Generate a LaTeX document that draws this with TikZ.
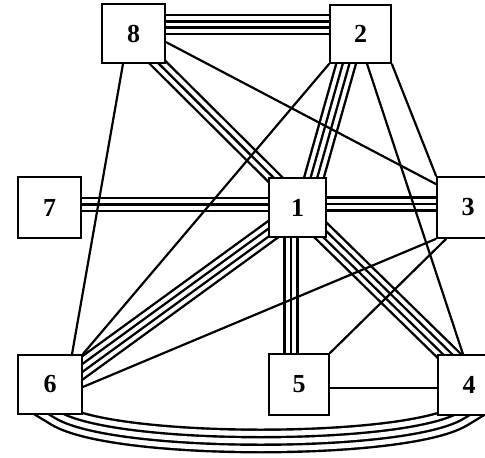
\documentclass[tikz,border=0pt]{standalone}
\usepackage{fontspec}
\setmainfont{Liberation Serif}
\usetikzlibrary{calc}
\pgfdeclarelayer{bg}
\pgfsetlayers{bg,main}
\tikzset{
  box/.style={draw, line width=1.6pt, fill=white, inner sep=0pt,
    font=\fontsize{26}{26}\selectfont\bfseries},
  single/.style={draw, line width=2.2pt},
  quadband/.style={draw, line width=21.3pt,
    postaction={draw, white, line width=16.5pt},
    postaction={draw, black, line width=8.7pt},
    postaction={draw, white, line width=3.9pt}},
  triband/.style={draw, line width=15.4pt,
    postaction={draw, white, line width=10.6pt},
    postaction={draw, black, line width=2.4pt}},
  arcband/.style={draw, line width=24.9pt,
    postaction={draw, white, line width=20.1pt},
    postaction={draw, black, line width=9.9pt},
    postaction={draw, white, line width=5.1pt}}
}
\begin{document}
\begin{tikzpicture}[x=1pt, y=-1pt]
\useasboundingbox (0,0) rectangle (485,458);
% nodes
\node[box, minimum width=63pt, minimum height=59pt] (n8) at (133.5,33.5) {8};
\node[box, minimum width=61pt, minimum height=58pt] (n2) at (360.5,34) {2};
\node[box, minimum width=63pt, minimum height=61pt] (n7) at (49.5,207.5) {7};
\node[box, minimum width=57pt, minimum height=59pt] (n1) at (297.5,207.5) {1};
\node[box, minimum width=62pt, minimum height=61pt] (n3) at (468,207.5) {3};
\node[box, minimum width=64pt, minimum height=59pt] (n6) at (50,384.5) {6};
\node[box, minimum width=60pt, minimum height=61pt] (n5) at (299,384.5) {5};
\node[box, minimum width=62pt, minimum height=60pt] (n4) at (469,385) {4};
% multi-line connectors, behind the boxes
\begin{pgfonlayer}{bg}
\fill[white] (0,0) rectangle (485,458);
\path[quadband] ($(n8.center)+(0,-9)$) -- ($(n2.center)+(0,-9.5)$);
\path[triband] ($(n8.center)+(-5,0)$) -- ($(n1.center)+(6,0)$);
\path[quadband] ($(n2.center)+(-6,0)$) -- ($(n1.center)+(8,0)$);
\path[triband] ($(n7.center)+(0,-3)$) -- ($(n1.center)+(0,-3)$);
\path[triband] ($(n1.center)+(0,-3.5)$) -- ($(n3.center)+(0,-3.5)$);
\path[triband] ($(n1.center)+(-6.5,0)$) -- ($(n5.center)+(-8,0)$);
\path[quadband] ($(n1.center)+(0,4)$) -- ($(n6.center)+(0,7)$);
\path[quadband] (n1.center) -- ($(n4.center)+(10,0)$);
\path[arcband] ($(n6.south)+(-14.4,-13)$) -- ($(n6.south)+(7,0)$)
  .. controls ($(n6.south)+(64.5,34.7)$) and ($(n4.south)+(-65.5,33.7)$) ..
  ($(n4.south)+(-8,0)$) -- ($(n4.south)+(13.4,-12.9)$);
\end{pgfonlayer}
% single connectors
\path[single] ($(n8.east)+(0,8.5)$) -- ($(n3.north west)+(0,8)$);
\path[single] ($(n8.south)+(-10.5,0)$) -- ($(n6.north)+(22,0)$);
\path[single] (n2.south west) -- (n6.north east);
\path[single] (n2.south east) -- (n3.north west);
\path[single] ($(n2.south)+(6.5,0)$) -- ($(n4.north)+(-6,0)$);
\path[single] (n3.south west) -- ($(n6.east)+(0,2.5)$);
\path[single] ($(n3.south west)+(10,0)$) -- (n5.north east);
\path[single] ($(n5.east)+(0,3.5)$) -- ($(n4.west)+(0,3)$);
\end{tikzpicture}
\end{document}
